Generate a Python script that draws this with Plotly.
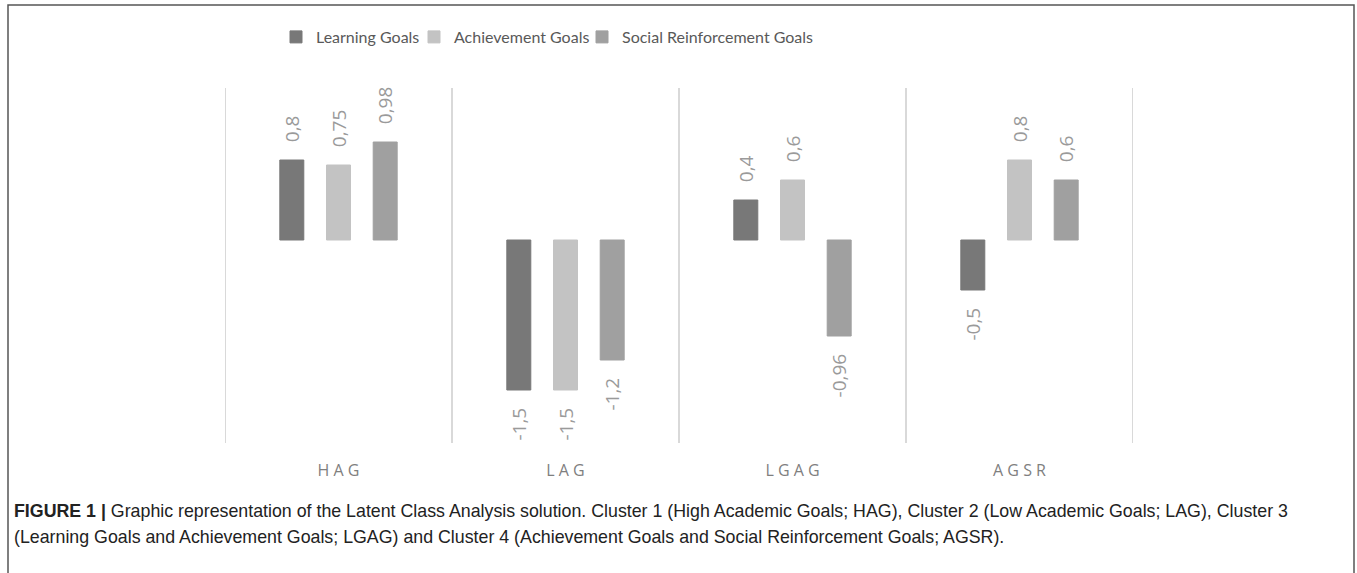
import plotly.graph_objects as go

categories = ["HAG", "LAG", "LGAG", "AGSR"]
series_names = ["Learning Goals", "Achievement Goals", "Social Reinforcement Goals"]
learning = [0.8, -1.5, 0.4, -0.5]
achievement = [0.75, -1.5, 0.6, 0.8]
social = [0.98, -1.2, -0.96, 0.6]
colors = ["#787878", "#c3c3c3", "#a0a0a0"]

caption_line1 = ("<b>FIGURE 1 |</b> Graphic representation of the Latent Class Analysis solution. "
                 "Cluster 1 (High Academic Goals; HAG), Cluster 2 (Low Academic Goals; LAG), Cluster 3")
caption_line2 = ("(Learning Goals and Achievement Goals; LGAG) and Cluster 4 (Achievement Goals and "
                 "Social Reinforcement Goals; AGSR).")

W, H = 1357, 573
L, R, T, B = 225, 224, 88, 130
pw, ph = W - L - R, H - T - B

def px_x(x):
    return (x - L) / pw

def px_y(y):
    return 1 - (y - T) / ph

def fmt(v):
    s = f"{v:g}".replace(".", ",")
    pad = "\u00a0" * 3
    return pad + s if v >= 0 else s + pad

label_font = "'Open Sans', sans-serif"
legend_font = "Lato, 'Open Sans', sans-serif"
caption_font = "'Liberation Sans', Arial, sans-serif"

legend_ids = ["legend", "legend2", "legend3"]
legend_left_px = [276, 414, 582]

fig = go.Figure()
for name, vals, col, lid in zip(series_names, [learning, achievement, social], colors, legend_ids):
    fig.add_trace(go.Bar(
        name=name, x=categories, y=vals, legend=lid,
        marker=dict(color=col, line=dict(color=col, width=1)),
        text=[fmt(v) for v in vals], textposition="outside", textangle=-90,
        textfont=dict(family=label_font, size=19, color="#9a9a9a"),
        cliponaxis=False, constraintext="none",
    ))

shapes = []
for i in range(len(categories) + 1):
    shapes.append(dict(type="line", xref="x", yref="paper", x0=i - 0.5, x1=i - 0.5,
                       y0=0, y1=1, line=dict(color="#d9d9d9", width=2), layer="below"))
shapes.append(dict(type="rect", xref="paper", yref="paper",
                   x0=px_x(8), x1=px_x(1354), y0=px_y(600), y1=px_y(5),
                   line=dict(color="#555555", width=1.5)))

legend_layout = {}
for lid, lx in zip(legend_ids, legend_left_px):
    legend_layout[lid] = dict(orientation="h", x=px_x(lx), y=px_y(37), xanchor="left", yanchor="middle",
                              font=dict(family=legend_font, size=16, color="#595959"),
                              itemclick=False, bgcolor="rgba(0,0,0,0)")

fig.update_layout(
    width=W, height=H,
    margin=dict(l=L, r=R, t=T, b=B),
    paper_bgcolor="white", plot_bgcolor="white",
    barmode="group", bargap=0.383, bargroupgap=0.486,
    showlegend=True,
    xaxis=dict(type="category", range=[-0.5, len(categories) - 0.5],
               tickvals=categories, ticktext=[" ".join(c) for c in categories],
               tickfont=dict(family="'Open Sans', sans-serif", size=16, color="#7f7f7f"),
               showgrid=False, zeroline=False, showline=False, ticks="",
               ticklabelstandoff=16, fixedrange=True),
    yaxis=dict(range=[-2.03, 1.52], visible=False, showgrid=False, zeroline=False, fixedrange=True),
    shapes=shapes,
    annotations=[
        dict(text=caption_line1, xref="paper", yref="paper", x=px_x(12), y=px_y(511),
             xanchor="left", yanchor="middle", showarrow=False,
             font=dict(family=caption_font, size=17.8, color="#222222")),
        dict(text=caption_line2, xref="paper", yref="paper", x=px_x(12), y=px_y(537),
             xanchor="left", yanchor="middle", showarrow=False,
             font=dict(family=caption_font, size=17.8, color="#222222")),
    ],
    **legend_layout,
)

fig.write_html("out.html", config={"displayModeBar": False},
               post_script="document.body.style.margin='0';document.body.style.overflow='hidden';")
